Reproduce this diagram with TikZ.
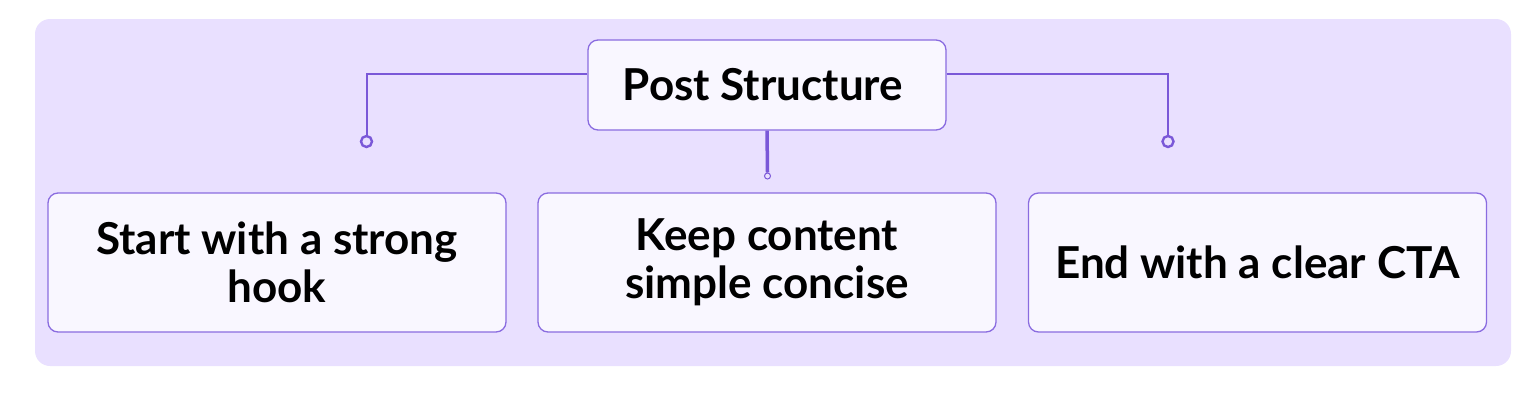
\documentclass[tikz,border=0pt]{standalone}
\usepackage{fontspec}
\setmainfont{Lato}
\definecolor{bgfill}{HTML}{E9E0FF}
\definecolor{boxfill}{HTML}{F9F7FF}
\definecolor{edge}{HTML}{8A6CE0}
\definecolor{wire}{HTML}{7A58D8}
\tikzset{
  panel/.style={fill=bgfill, draw=none, rounded corners=15pt},
  titlebox/.style={draw=edge, fill=boxfill, line width=1.3pt, rounded corners=10pt,
    minimum width=358pt, minimum height=90pt, inner sep=0pt,
    font=\bfseries\fontsize{44}{48}\selectfont, text=black},
  itembox/.style={draw=edge, fill=boxfill, line width=1.3pt, rounded corners=10pt,
    minimum width=458pt, minimum height=139pt, inner sep=0pt, align=center,
    font=\bfseries\fontsize{44}{48}\selectfont, text=black},
  wireline/.style={draw=wire, line width=2pt},
  bigdot/.style={circle, draw=wire, fill=bgfill, line width=2.4pt, minimum size=11pt, inner sep=0pt},
  smalldot/.style={circle, draw=wire, fill=bgfill, line width=1pt, minimum size=6pt, inner sep=0pt},
}
\begin{document}
\begin{tikzpicture}[x=1pt, y=-1pt]
\useasboundingbox (0,0) rectangle (1536,402);
\path[panel] (35,19) rectangle (1511,366);
\node[titlebox] (title) at (767,85) {Post Structure\hspace*{8pt}};
\node[itembox] (a) at (277,262.5) {Start with a strong\\hook};
\node[itembox] (b) at (767,262.5) {Keep content\\simple concise};
\node[itembox] (c) at (1257.5,262.5) {End with a clear CTA};
\node[bigdot] (dl) at (366.5,141.5) {};
\node[bigdot] (dr) at (1168,141.5) {};
\node[smalldot] (dm) at (767.5,176) {};
\coordinate (yl) at (0,74);
\draw[wireline] (title.west |- yl) -| (dl.north);
\draw[wireline] (title.east |- yl) -| (dr.north);
\draw[draw=wire, line width=3.5pt] (title.south) -- (dm.north);
\end{tikzpicture}
\end{document}
